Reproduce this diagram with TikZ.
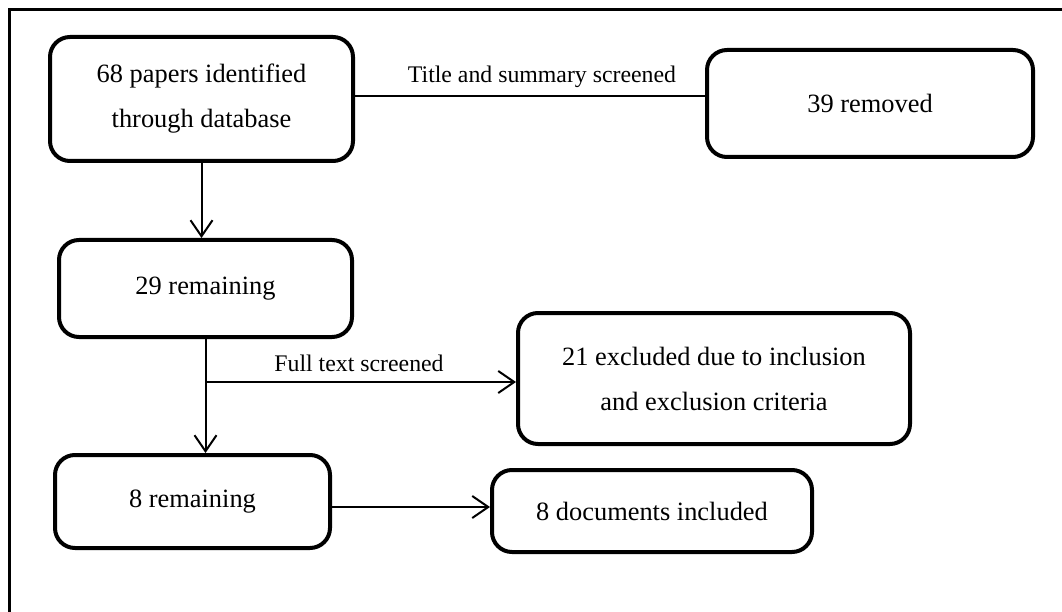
\documentclass[tikz,border=0pt]{standalone}
\usepackage{fontspec}
\setmainfont{Liberation Serif}
\usetikzlibrary{arrows.meta}
\tikzset{
  stage/.style={draw, line width=4pt, rounded corners=20pt, align=center,
    inner sep=0pt, font=\fontsize{26.4}{45}\selectfont},
  link/.style={line width=2pt},
  flow/.style={line width=2pt, -{Straight Barb[length=16pt, width=22pt, line width=2pt]}},
  tag/.style={font=\fontsize{23.8}{28}\selectfont, inner sep=0pt}
}
\begin{document}
\begin{tikzpicture}[x=1pt, y=-1pt]
\useasboundingbox (0,0) rectangle (1062,612);
% open frame: top and left edges
\draw[line width=3pt] (1062,10) -- (9,10) -- (9,612);

% stages
\node[stage, minimum width=303pt, minimum height=124pt] (b1) at (201.5,99)
  {68 papers identified\\through database};
\node[stage, minimum width=326pt, minimum height=107pt] (b2) at (870,103.5)
  {39 removed};
\node[stage, minimum width=293pt, minimum height=97pt] (b3) at (205.5,288.5)
  {29 remaining};
\node[stage, minimum width=392pt, minimum height=131pt] (b5) at (714,378.5)
  {21 excluded due to inclusion\\and exclusion criteria};
\node[stage, minimum width=275pt, minimum height=93pt] (b4) at (192.5,501.5)
  {8 remaining};
\node[stage, minimum width=320pt, minimum height=82pt] (b6) at (652,511)
  {8 documents included};

% connectors
\draw[link] (b1.east |- 0,96) -- (b2.west |- 0,96);
\node[tag] (t1) at (542,77) {Title and summary screened};

\draw[flow] (b1.south) -- (b1.south |- b3.north);

\draw[flow] (b3.south) -- (b3.south |- b4.north);
\coordinate (br) at (b3.south |- 0,382);
\draw[flow] (br) -- (b5.west |- br);
\node[tag] (t2) at (359,363) {Full text screened};

\draw[flow] (b4.east |- 0,507) -- (b6.west |- 0,507);
\end{tikzpicture}
\end{document}
